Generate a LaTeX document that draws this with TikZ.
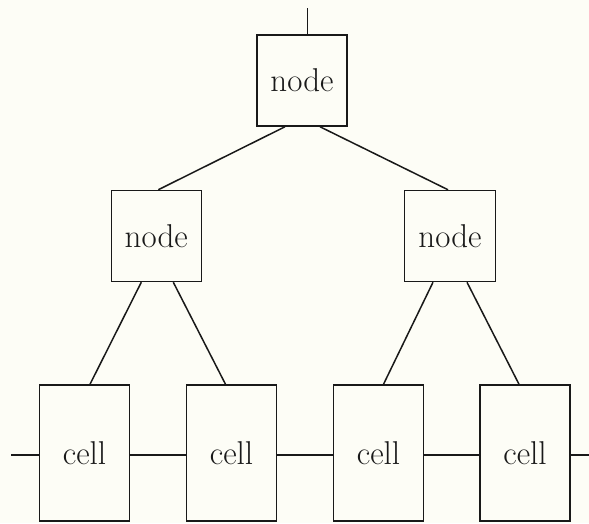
\documentclass[tikz,border=0pt]{standalone}
\definecolor{bg}{RGB}{253,253,246}
\definecolor{linec}{RGB}{25,25,25}
\begin{document}
\begin{tikzpicture}[x=1pt,y=-1pt,
  box/.style={draw=linec, line width=1.5pt, inner sep=0pt, text=linec, font=\fontsize{33}{38}\selectfont},
  treenode/.style={box, minimum width=90pt, minimum height=91pt},
  cellbox/.style={box, minimum width=90pt, minimum height=136pt},
  wire/.style={draw=linec, line width=1.5pt}]
\fill[bg] (0,0) rectangle (589,523);
\useasboundingbox (0,0) rectangle (589,523);
% tree nodes
\node[treenode] (root)  at (302,80.5) {node};
\node[treenode] (left)  at (156.3,236) {node};
\node[treenode, minimum width=91pt] (right) at (450,236) {node};
% cells
\node[cellbox] (c1) at (84.5,453) {cell};
\node[cellbox] (c2) at (231.5,453) {cell};
\node[cellbox] (c3) at (378.5,453) {cell};
\node[cellbox] (c4) at (525,453) {cell};
% free ends
\coordinate (topend) at (307.7,8);
\coordinate (lend) at (11,455);
\coordinate (rend) at (589,455);
% connectors
\draw[wire] (topend) -- ([xshift=5.7pt]root.north);
\draw[wire] ([xshift=-17pt]root.south) -- ([xshift=2pt]left.north);
\draw[wire] ([xshift=18pt]root.south) -- ([xshift=-2pt]right.north);
\draw[wire] ([xshift=-15pt]left.south) -- ([xshift=5.5pt]c1.north);
\draw[wire] ([xshift=17pt]left.south) -- ([xshift=-6pt]c2.north);
\draw[wire] ([xshift=-17pt]right.south) -- ([xshift=5pt]c3.north);
\draw[wire] ([xshift=17pt]right.south) -- ([xshift=-6pt]c4.north);
\draw[wire] (lend) -- ([yshift=-2pt]c1.west);
\draw[wire] ([yshift=-2pt]c1.east) -- ([yshift=-2pt]c2.west);
\draw[wire] ([yshift=-2pt]c2.east) -- ([yshift=-2pt]c3.west);
\draw[wire] ([yshift=-2pt]c3.east) -- ([yshift=-2pt]c4.west);
\draw[wire] ([yshift=-2pt]c4.east) -- (rend);
\end{tikzpicture}
\end{document}
